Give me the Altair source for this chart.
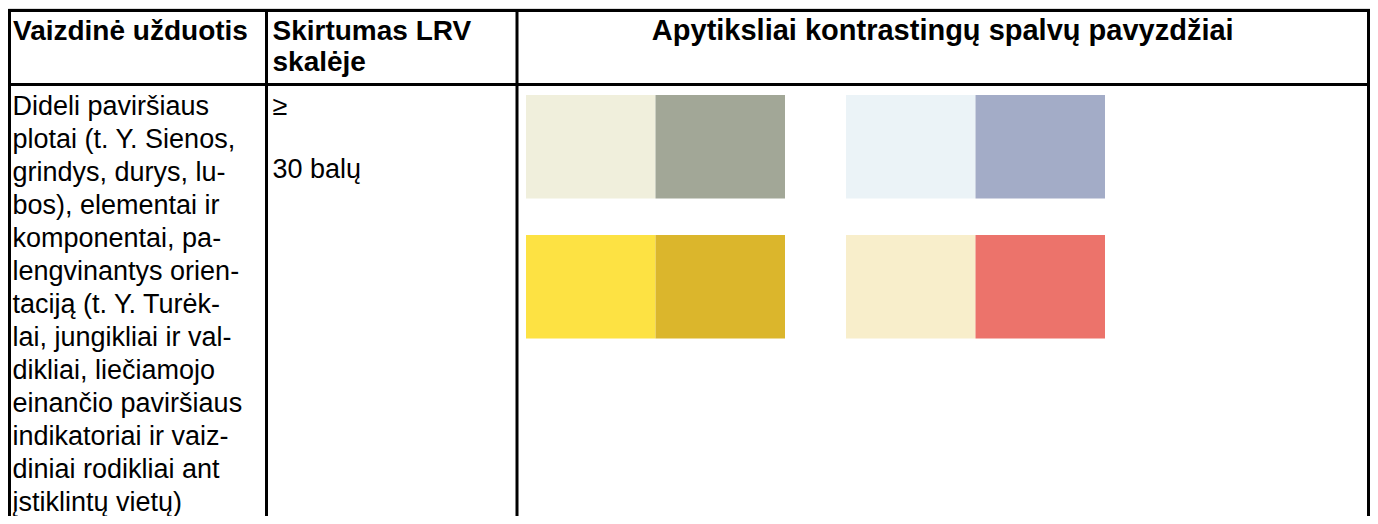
import altair as alt
import pandas as pd

# ---- data ----
header_labels = ["Vaizdinė užduotis", "Skirtumas LRV\nskalėje",
                 "Apytiksliai kontrastingų spalvų pavyzdžiai"]
task_lines = [
    "Dideli paviršiaus",
    "plotai (t. Y. Sienos,",
    "grindys, durys, lu-",
    "bos), elementai ir",
    "komponentai, pa-",
    "lengvinantys orien-",
    "taciją (t. Y. Turėk-",
    "lai, jungikliai ir val-",
    "dikliai, liečiamojo",
    "einančio paviršiaus",
    "indikatoriai ir vaiz-",
    "diniai rodikliai ant",
    "įstiklintų vietų)",
]
lrv_lines = ["≥", "", "30 balų"]
light_colors = ["#F0EFDC", "#EBF3F7", "#FDE243", "#F8EECB"]
dark_colors = ["#A2A797", "#A3ACC7", "#DBB62C", "#EC736B"]

# ---- layout (pixels in chart space) ----
W, H = 1362, 508
FONT = "Liberation Sans"
FS = 27
FS_H = 28
FS_H3 = 29
col_edges = [1.5, 258.5, 509, 1360.5]
row_edges = [2.5, 76.5, H + 20]
pair_left = [518, 838]
half_w = 129.5
row_top = [87, 227]
sw_h = 103.5
body_base, body_pitch = 106.5, 33

xs = alt.Scale(domain=[0, W], nice=False, zero=False)
ys = alt.Scale(domain=[0, H], nice=False, zero=False, reverse=True)
X = lambda f: alt.X(f, type="quantitative", scale=xs, axis=None)
Y = lambda f: alt.Y(f, type="quantitative", scale=ys, axis=None)

# grid lines
lines = []
for cx in col_edges:
    lines.append(dict(x=cx, x2=cx, y=row_edges[0], y2=row_edges[-1]))
for ry in row_edges[:2]:
    lines.append(dict(x=col_edges[0], x2=col_edges[-1], y=ry, y2=ry))
grid = alt.Chart(pd.DataFrame(lines)).mark_rule(
    color="black", strokeWidth=3, strokeCap="square"
).encode(x=X("x"), x2="x2", y=Y("y"), y2="y2")

# swatches
sw = []
for k, (lc, dc) in enumerate(zip(light_colors, dark_colors)):
    r, c = divmod(k, 2)
    x0 = pair_left[c]
    y0 = row_top[r]
    sw.append(dict(x=x0, x2=x0 + half_w, y=y0, y2=y0 + sw_h, color=lc))
    sw.append(dict(x=x0 + half_w, x2=x0 + 2 * half_w, y=y0, y2=y0 + sw_h, color=dc))
swatches = alt.Chart(pd.DataFrame(sw)).mark_rect().encode(
    x=X("x"), x2="x2", y=Y("y"), y2="y2",
    color=alt.Color("color:N", scale=None)
)

# headers
hdr_left = pd.DataFrame(dict(
    t=header_labels[:2],
    x=[col_edges[0] + 3.5, col_edges[1] + 6],
    y=[31.5, 31.5],
))
hdr_l = alt.Chart(hdr_left).mark_text(
    align="left", baseline="alphabetic", font=FONT, fontSize=FS_H,
    fontWeight="bold", lineBreak="\n", lineHeight=31, color="black"
).encode(x=X("x"), y=Y("y"), text="t:N")
hdr_c = alt.Chart(pd.DataFrame(dict(
    t=[header_labels[2]], x=[(col_edges[2] + col_edges[3]) / 2], y=[32]
))).mark_text(
    align="center", baseline="alphabetic", font=FONT, fontSize=FS_H3,
    fontWeight="bold", color="black"
).encode(x=X("x"), y=Y("y"), text="t:N")

# body text
body = pd.DataFrame(dict(
    t=task_lines,
    x=col_edges[0] + 3,
    y=[body_base + i * body_pitch for i in range(len(task_lines))],
))
lrv = pd.DataFrame(dict(
    t=lrv_lines,
    x=col_edges[1] + 6,
    y=[body_base + i * body_pitch - (3 if i == 2 else 0) for i in range(len(lrv_lines))],
))
body_t = alt.Chart(pd.concat([body, lrv])).mark_text(
    align="left", baseline="alphabetic", font=FONT, fontSize=FS, color="black"
).encode(x=X("x"), y=Y("y"), text="t:N")

chart = alt.layer(swatches, grid, hdr_l, hdr_c, body_t).properties(
    width=W, height=H, autosize="none", padding=0
).configure_view(stroke=None).configure(background="white")

chart.save("out.html", embed_options={"renderer": "svg", "actions": False})
